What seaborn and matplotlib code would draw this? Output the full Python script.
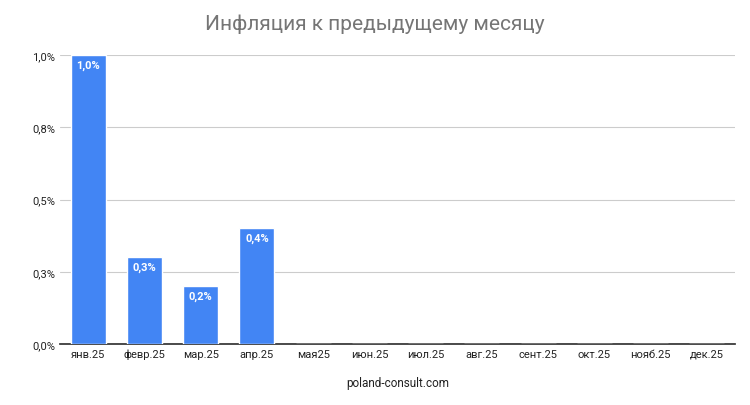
import pandas as pd
import matplotlib.pyplot as plt
import seaborn as sns

months = ['янв.25', 'февр.25', 'мар.25', 'апр.25', 'мая25', 'июн.25',
          'июл.25', 'авг.25', 'сент.25', 'окт.25', 'нояб.25', 'дек.25']
inflation = [1.0, 0.3, 0.2, 0.4, 0, 0, 0, 0, 0, 0, 0, 0]
bar_labels = ['1,0%', '0,3%', '0,2%', '0,4%']
y_ticks = [0, 0.25, 0.5, 0.75, 1.0]
y_tick_labels = ['0,0%', '0,3%', '0,5%', '0,8%', '1,0%']

df = pd.DataFrame({'month': months, 'value': inflation})

sns.set_theme(style="white")
plt.rcParams['font.family'] = ['Roboto', 'DejaVu Sans']

fig = plt.figure(figsize=(7.5, 4.06), dpi=100)
ax = fig.add_axes([0.08, 0.15, 0.90, 0.712])

sns.barplot(data=df, x='month', y='value', color='#4285F4', saturation=1,
            width=0.62, ax=ax, zorder=3)

# подписи значений внутри столбцов
for i, lbl in enumerate(bar_labels):
    ax.text(i, inflation[i] - 0.015, lbl, ha='center', va='top',
            color='white', fontsize=8, fontweight='bold', zorder=4)

ax.set_ylim(0, 1.0)
ax.set_yticks(y_ticks)
ax.set_yticklabels(y_tick_labels)
ax.yaxis.grid(True, color='#cccccc', linewidth=0.8, zorder=0)
ax.tick_params(axis='both', labelsize=8, colors='#222222', length=0)
for s in ['top', 'right', 'left']:
    ax.spines[s].set_visible(False)
ax.spines['bottom'].set_color('#333333')

ax.set_xlabel('poland-consult.com', fontsize=8.5, color='#222222', labelpad=12)
ax.set_ylabel('')
fig.suptitle('Инфляция к предыдущему месяцу', y=0.965, fontsize=15, color='#757575')

plt.savefig('out.png', dpi=100)
plt.close()
